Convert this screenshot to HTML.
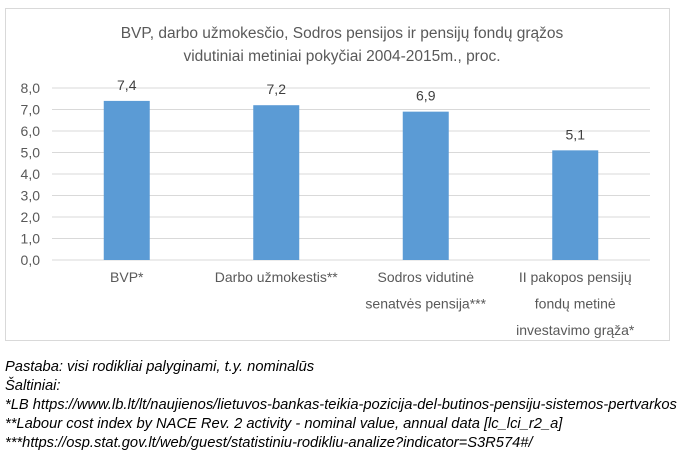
<!DOCTYPE html>
<html><head><meta charset="utf-8"><style>
body{margin:0;background:#fff;width:700px;height:464px;overflow:hidden;font-family:"Liberation Sans",sans-serif}
.note{position:absolute;left:5px;font-style:italic;font-size:14.7px;color:#000;white-space:nowrap;line-height:17px}
</style></head><body>
<svg width="700" height="464" style="position:absolute;left:0;top:0">
<rect x="5.5" y="8.5" width="664" height="332" fill="#fff" stroke="#d9d9d9"/>
<text x="342" y="38" text-anchor="middle" font-size="15.5" fill="#595959">BVP, darbo užmokesčio, Sodros pensijos ir pensijų fondų grąžos</text>
<text x="342" y="61" text-anchor="middle" font-size="15.5" fill="#595959">vidutiniai metiniai pokyčiai 2004-2015m., proc.</text>
<g id="grid"></g><g id="bars"></g><g id="labels"></g>
</svg>
<div class="note" style="top:359px">Pastaba: visi rodikliai palyginami, t.y. nominalūs</div>
<div class="note" style="top:378px">Šaltiniai:</div>
<div class="note" style="top:397px">*LB https://www.lb.lt/lt/naujienos/lietuvos-bankas-teikia-pozicija-del-butinos-pensiju-sistemos-pertvarkos</div>
<div class="note" style="top:416px">**Labour cost index by NACE Rev. 2 activity - nominal value, annual data [lc_lci_r2_a]</div>
<div class="note" style="top:435px">***https://osp.stat.gov.lt/web/guest/statistiniu-rodikliu-analize?indicator=S3R574#/</div>
<script>
const categories=[["BVP*"],["Darbo užmokestis**"],["Sodros vidutinė","senatvės pensija***"],["II pakopos pensijų","fondų metinė","investavimo grąža*"]];
const values=[7.4,7.2,6.9,5.1];
const valueLabels=["7,4","7,2","6,9","5,1"];
const ticks=[0,1,2,3,4,5,6,7,8];
const tickLabels=["0,0","1,0","2,0","3,0","4,0","5,0","6,0","7,0","8,0"];
const NS="http://www.w3.org/2000/svg";
const x0=52,x1=650,y0=260,y1=88,vmax=8;
const y=v=>y0-(v/vmax)*(y0-y1);
const band=(x1-x0)/categories.length;
const xc=i=>x0+band*(i+0.5);
function mk(t,a,p){const e=document.createElementNS(NS,t);for(const k in a)e.setAttribute(k,a[k]);p.appendChild(e);return e;}
const g=document.getElementById('grid'),b=document.getElementById('bars'),l=document.getElementById('labels');
ticks.forEach((t,i)=>{
 const ln=mk('line',{x1:x0,x2:x1,y1:y(t),y2:y(t),stroke:'#d9d9d9','stroke-width':1},g);
 
 
 const tx=mk('text',{x:40,y:y(t)+5,'text-anchor':'end','font-size':14,fill:'#595959'},g);
 tx.textContent=tickLabels[i];
 
 
});
const bw=46;
values.forEach((v,i)=>{
 const r=mk('rect',{x:xc(i)-bw/2,y:y(v),width:bw,height:y0-y(v),fill:'#5b9bd5'},b);
 
 
 const t=mk('text',{x:xc(i),y:y(v)-11,'text-anchor':'middle','font-size':14,fill:'#404040'},l);
 t.textContent=valueLabels[i];
 
 
 categories[i].forEach((s,j)=>{
  const c=mk('text',{x:xc(i),y:y0+22+j*26.5,'text-anchor':'middle','font-size':14,fill:'#595959'},l);
  c.textContent=s;
  
  
 });
});
</script>
</body></html>
